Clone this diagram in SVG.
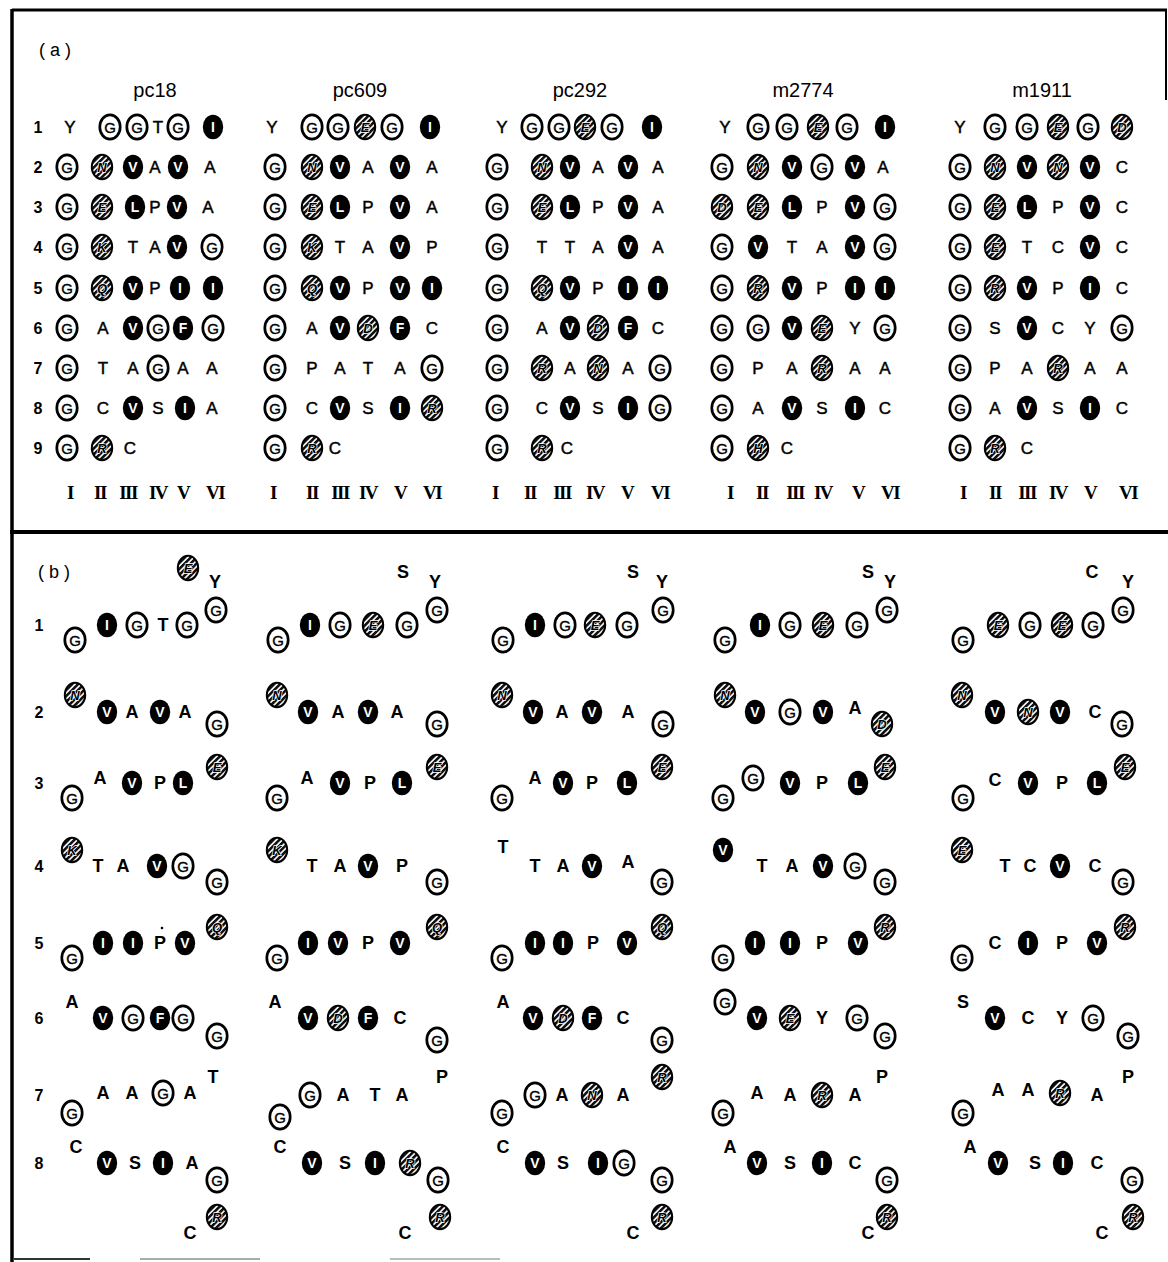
<svg xmlns="http://www.w3.org/2000/svg" xmlns:xlink="http://www.w3.org/1999/xlink" width="1168" height="1262" viewBox="0 0 1168 1262">
<style>
text{font-family:"Liberation Sans",Arial,sans-serif;text-anchor:middle;dominant-baseline:central}
.t{font-size:17px;stroke:#000;stroke-width:0.45}
.u{font-size:18px;font-weight:bold}
.g{font-size:15px;stroke:#000;stroke-width:0.35}
.w{font-size:14px;font-weight:bold;fill:#fff}
.h{font-size:13px;font-weight:bold;font-style:italic;fill:#000;stroke:#fff;stroke-width:1.3;paint-order:stroke}
.n{font-size:16px;font-weight:bold}
.hd{font-size:20px}
.lb{font-size:18px}
.rm{font-family:"Liberation Serif","Times New Roman",serif;font-size:19px;font-weight:bold;letter-spacing:-1.5px}
.frame{stroke:#000;fill:none}
</style>
<defs>
<pattern id="hp" width="4.2" height="4.2" patternUnits="userSpaceOnUse" patternTransform="rotate(45)"><rect width="4.2" height="4.2" fill="#111"/><rect width="1.6" height="4.2" fill="#fff"/></pattern>
<ellipse id="r" rx="10.2" ry="12.2" fill="#fff" stroke="#000" stroke-width="2.7"/>
<ellipse id="b" rx="10.2" ry="12.2" fill="#000"/>
<ellipse id="h" rx="10.2" ry="12.2" fill="url(#hp)" stroke="#000" stroke-width="2"/>
</defs>
<rect width="1168" height="1262" fill="#fff"/>
<g id="frame">
<line class="frame" x1="12" y1="10" x2="1167" y2="10" stroke-width="3"/>
<line class="frame" x1="12" y1="9" x2="12" y2="1262" stroke-width="3.5"/>
<line class="frame" x1="1166" y1="10" x2="1166" y2="100" stroke-width="2"/>
<line class="frame" x1="10" y1="532" x2="1168" y2="532" stroke-width="4"/>
<line x1="14" y1="1259" x2="90" y2="1259" stroke="#333" stroke-width="2"/>
<line x1="140" y1="1259" x2="260" y2="1259" stroke="#aaa" stroke-width="2"/>
<line x1="390" y1="1259" x2="500" y2="1259" stroke="#bbb" stroke-width="2"/>
</g>

<g id="panel-a">
<text class="lb" x="55" y="50">( a )</text>
<g id="a-rows">
<text class="n" x="38" y="127">1</text><text class="n" x="38" y="167">2</text><text class="n" x="38" y="207">3</text><text class="n" x="38" y="247">4</text><text class="n" x="38" y="288">5</text><text class="n" x="38" y="328">6</text><text class="n" x="38" y="368">7</text><text class="n" x="38" y="408">8</text><text class="n" x="38" y="448">9</text>
</g>

<g id="a-pc18">
<text class="hd" x="155" y="90">pc18</text>
<text class="t" x="70" y="127">Y</text><use href="#r" x="110" y="127"/><text class="g" x="110" y="127">G</text><use href="#r" x="137" y="127"/><text class="g" x="137" y="127">G</text><text class="t" x="158" y="127">T</text><use href="#r" x="178" y="127"/><text class="g" x="178" y="127">G</text><use href="#b" x="213" y="127"/><text class="w" x="213" y="127">I</text>
<use href="#r" x="67" y="167"/><text class="g" x="67" y="167">G</text><use href="#h" x="102" y="167"/><text class="h" x="102" y="167">N</text><use href="#b" x="133" y="167"/><text class="w" x="133" y="167">V</text><text class="t" x="155" y="167">A</text><use href="#b" x="178" y="167"/><text class="w" x="178" y="167">V</text><text class="t" x="210" y="167">A</text>
<use href="#r" x="67" y="207"/><text class="g" x="67" y="207">G</text><use href="#h" x="102" y="207"/><text class="h" x="102" y="207">E</text><use href="#b" x="135" y="207"/><text class="w" x="135" y="207">L</text><text class="t" x="155" y="207">P</text><use href="#b" x="177" y="207"/><text class="w" x="177" y="207">V</text><text class="t" x="208" y="207">A</text>
<use href="#r" x="67" y="247"/><text class="g" x="67" y="247">G</text><use href="#h" x="102" y="247"/><text class="h" x="102" y="247">K</text><text class="t" x="133" y="247">T</text><text class="t" x="155" y="247">A</text><use href="#b" x="177" y="247"/><text class="w" x="177" y="247">V</text><use href="#r" x="212" y="247"/><text class="g" x="212" y="247">G</text>
<use href="#r" x="67" y="288"/><text class="g" x="67" y="288">G</text><use href="#h" x="102" y="288"/><text class="h" x="102" y="288">Q</text><use href="#b" x="133" y="288"/><text class="w" x="133" y="288">V</text><text class="t" x="155" y="288">P</text><use href="#b" x="180" y="288"/><text class="w" x="180" y="288">I</text><use href="#b" x="213" y="288"/><text class="w" x="213" y="288">I</text>
<use href="#r" x="67" y="328"/><text class="g" x="67" y="328">G</text><text class="t" x="103" y="328">A</text><use href="#b" x="133" y="328"/><text class="w" x="133" y="328">V</text><use href="#r" x="158" y="328"/><text class="g" x="158" y="328">G</text><use href="#b" x="183" y="328"/><text class="w" x="183" y="328">F</text><use href="#r" x="213" y="328"/><text class="g" x="213" y="328">G</text>
<use href="#r" x="67" y="368"/><text class="g" x="67" y="368">G</text><text class="t" x="103" y="368">T</text><text class="t" x="133" y="368">A</text><use href="#r" x="158" y="368"/><text class="g" x="158" y="368">G</text><text class="t" x="183" y="368">A</text><text class="t" x="212" y="368">A</text>
<use href="#r" x="67" y="408"/><text class="g" x="67" y="408">G</text><text class="t" x="103" y="408">C</text><use href="#b" x="133" y="408"/><text class="w" x="133" y="408">V</text><text class="t" x="158" y="408">S</text><use href="#b" x="185" y="408"/><text class="w" x="185" y="408">I</text><text class="t" x="212" y="408">A</text>
<use href="#r" x="67" y="448"/><text class="g" x="67" y="448">G</text><use href="#h" x="102" y="448"/><text class="h" x="102" y="448">R</text><text class="t" x="130" y="448">C</text>
<text class="rm" x="70" y="492">I</text><text class="rm" x="100" y="492">II</text><text class="rm" x="128" y="492">III</text><text class="rm" x="158" y="492">IV</text><text class="rm" x="183" y="492">V</text><text class="rm" x="215" y="492">VI</text>
</g>

<g id="a-pc609">
<text class="hd" x="360" y="90">pc609</text>
<text class="t" x="272" y="127">Y</text><use href="#r" x="312" y="127"/><text class="g" x="312" y="127">G</text><use href="#r" x="338" y="127"/><text class="g" x="338" y="127">G</text><use href="#h" x="365" y="127"/><text class="h" x="365" y="127">E</text><use href="#r" x="392" y="127"/><text class="g" x="392" y="127">G</text><use href="#b" x="430" y="127"/><text class="w" x="430" y="127">I</text>
<use href="#r" x="275" y="167"/><text class="g" x="275" y="167">G</text><use href="#h" x="312" y="167"/><text class="h" x="312" y="167">N</text><use href="#b" x="340" y="167"/><text class="w" x="340" y="167">V</text><text class="t" x="368" y="167">A</text><use href="#b" x="400" y="167"/><text class="w" x="400" y="167">V</text><text class="t" x="432" y="167">A</text>
<use href="#r" x="275" y="207"/><text class="g" x="275" y="207">G</text><use href="#h" x="312" y="207"/><text class="h" x="312" y="207">E</text><use href="#b" x="340" y="207"/><text class="w" x="340" y="207">L</text><text class="t" x="368" y="207">P</text><use href="#b" x="400" y="207"/><text class="w" x="400" y="207">V</text><text class="t" x="432" y="207">A</text>
<use href="#r" x="275" y="247"/><text class="g" x="275" y="247">G</text><use href="#h" x="312" y="247"/><text class="h" x="312" y="247">K</text><text class="t" x="340" y="247">T</text><text class="t" x="368" y="247">A</text><use href="#b" x="400" y="247"/><text class="w" x="400" y="247">V</text><text class="t" x="432" y="247">P</text>
<use href="#r" x="275" y="288"/><text class="g" x="275" y="288">G</text><use href="#h" x="312" y="288"/><text class="h" x="312" y="288">Q</text><use href="#b" x="340" y="288"/><text class="w" x="340" y="288">V</text><text class="t" x="368" y="288">P</text><use href="#b" x="400" y="288"/><text class="w" x="400" y="288">V</text><use href="#b" x="432" y="288"/><text class="w" x="432" y="288">I</text>
<use href="#r" x="275" y="328"/><text class="g" x="275" y="328">G</text><text class="t" x="312" y="328">A</text><use href="#b" x="340" y="328"/><text class="w" x="340" y="328">V</text><use href="#h" x="368" y="328"/><text class="h" x="368" y="328">D</text><use href="#b" x="400" y="328"/><text class="w" x="400" y="328">F</text><text class="t" x="432" y="328">C</text>
<use href="#r" x="275" y="368"/><text class="g" x="275" y="368">G</text><text class="t" x="312" y="368">P</text><text class="t" x="340" y="368">A</text><text class="t" x="368" y="368">T</text><text class="t" x="400" y="368">A</text><use href="#r" x="432" y="368"/><text class="g" x="432" y="368">G</text>
<use href="#r" x="275" y="408"/><text class="g" x="275" y="408">G</text><text class="t" x="312" y="408">C</text><use href="#b" x="340" y="408"/><text class="w" x="340" y="408">V</text><text class="t" x="368" y="408">S</text><use href="#b" x="400" y="408"/><text class="w" x="400" y="408">I</text><use href="#h" x="432" y="408"/><text class="h" x="432" y="408">R</text>
<use href="#r" x="275" y="448"/><text class="g" x="275" y="448">G</text><use href="#h" x="312" y="448"/><text class="h" x="312" y="448">R</text><text class="t" x="335" y="448">C</text>
<text class="rm" x="273" y="492">I</text><text class="rm" x="312" y="492">II</text><text class="rm" x="340" y="492">III</text><text class="rm" x="368" y="492">IV</text><text class="rm" x="400" y="492">V</text><text class="rm" x="432" y="492">VI</text>
</g>

<g id="a-pc292">
<text class="hd" x="580" y="90">pc292</text>
<text class="t" x="502" y="127">Y</text><use href="#r" x="532" y="127"/><text class="g" x="532" y="127">G</text><use href="#r" x="559" y="127"/><text class="g" x="559" y="127">G</text><use href="#h" x="585" y="127"/><text class="h" x="585" y="127">E</text><use href="#r" x="612" y="127"/><text class="g" x="612" y="127">G</text><use href="#b" x="652" y="127"/><text class="w" x="652" y="127">I</text>
<use href="#r" x="497" y="167"/><text class="g" x="497" y="167">G</text><use href="#h" x="542" y="167"/><text class="h" x="542" y="167">N</text><use href="#b" x="570" y="167"/><text class="w" x="570" y="167">V</text><text class="t" x="598" y="167">A</text><use href="#b" x="628" y="167"/><text class="w" x="628" y="167">V</text><text class="t" x="658" y="167">A</text>
<use href="#r" x="497" y="207"/><text class="g" x="497" y="207">G</text><use href="#h" x="542" y="207"/><text class="h" x="542" y="207">E</text><use href="#b" x="570" y="207"/><text class="w" x="570" y="207">L</text><text class="t" x="598" y="207">P</text><use href="#b" x="628" y="207"/><text class="w" x="628" y="207">V</text><text class="t" x="658" y="207">A</text>
<use href="#r" x="497" y="247"/><text class="g" x="497" y="247">G</text><text class="t" x="542" y="247">T</text><text class="t" x="570" y="247">T</text><text class="t" x="598" y="247">A</text><use href="#b" x="628" y="247"/><text class="w" x="628" y="247">V</text><text class="t" x="658" y="247">A</text>
<use href="#r" x="497" y="288"/><text class="g" x="497" y="288">G</text><use href="#h" x="542" y="288"/><text class="h" x="542" y="288">Q</text><use href="#b" x="570" y="288"/><text class="w" x="570" y="288">V</text><text class="t" x="598" y="288">P</text><use href="#b" x="628" y="288"/><text class="w" x="628" y="288">I</text><use href="#b" x="658" y="288"/><text class="w" x="658" y="288">I</text>
<use href="#r" x="497" y="328"/><text class="g" x="497" y="328">G</text><text class="t" x="542" y="328">A</text><use href="#b" x="570" y="328"/><text class="w" x="570" y="328">V</text><use href="#h" x="598" y="328"/><text class="h" x="598" y="328">D</text><use href="#b" x="628" y="328"/><text class="w" x="628" y="328">F</text><text class="t" x="658" y="328">C</text>
<use href="#r" x="497" y="368"/><text class="g" x="497" y="368">G</text><use href="#h" x="542" y="368"/><text class="h" x="542" y="368">R</text><text class="t" x="570" y="368">A</text><use href="#h" x="598" y="368"/><text class="h" x="598" y="368">N</text><text class="t" x="628" y="368">A</text><use href="#r" x="660" y="368"/><text class="g" x="660" y="368">G</text>
<use href="#r" x="497" y="408"/><text class="g" x="497" y="408">G</text><text class="t" x="542" y="408">C</text><use href="#b" x="570" y="408"/><text class="w" x="570" y="408">V</text><text class="t" x="598" y="408">S</text><use href="#b" x="628" y="408"/><text class="w" x="628" y="408">I</text><use href="#r" x="660" y="408"/><text class="g" x="660" y="408">G</text>
<use href="#r" x="497" y="448"/><text class="g" x="497" y="448">G</text><use href="#h" x="542" y="448"/><text class="h" x="542" y="448">R</text><text class="t" x="567" y="448">C</text>
<text class="rm" x="495" y="492">I</text><text class="rm" x="530" y="492">II</text><text class="rm" x="562" y="492">III</text><text class="rm" x="595" y="492">IV</text><text class="rm" x="627" y="492">V</text><text class="rm" x="660" y="492">VI</text>
</g>

<g id="a-m2774">
<text class="hd" x="803" y="90">m2774</text>
<text class="t" x="725" y="127">Y</text><use href="#r" x="758" y="127"/><text class="g" x="758" y="127">G</text><use href="#r" x="787" y="127"/><text class="g" x="787" y="127">G</text><use href="#h" x="818" y="127"/><text class="h" x="818" y="127">E</text><use href="#r" x="847" y="127"/><text class="g" x="847" y="127">G</text><use href="#b" x="885" y="127"/><text class="w" x="885" y="127">I</text>
<use href="#r" x="722" y="167"/><text class="g" x="722" y="167">G</text><use href="#h" x="758" y="167"/><text class="h" x="758" y="167">N</text><use href="#b" x="792" y="167"/><text class="w" x="792" y="167">V</text><use href="#r" x="822" y="167"/><text class="g" x="822" y="167">G</text><use href="#b" x="855" y="167"/><text class="w" x="855" y="167">V</text><text class="t" x="883" y="167">A</text>
<use href="#h" x="722" y="207"/><text class="h" x="722" y="207">D</text><use href="#h" x="758" y="207"/><text class="h" x="758" y="207">E</text><use href="#b" x="792" y="207"/><text class="w" x="792" y="207">L</text><text class="t" x="822" y="207">P</text><use href="#b" x="855" y="207"/><text class="w" x="855" y="207">V</text><use href="#r" x="885" y="207"/><text class="g" x="885" y="207">G</text>
<use href="#r" x="722" y="247"/><text class="g" x="722" y="247">G</text><use href="#b" x="758" y="247"/><text class="w" x="758" y="247">V</text><text class="t" x="792" y="247">T</text><text class="t" x="822" y="247">A</text><use href="#b" x="855" y="247"/><text class="w" x="855" y="247">V</text><use href="#r" x="885" y="247"/><text class="g" x="885" y="247">G</text>
<use href="#r" x="722" y="288"/><text class="g" x="722" y="288">G</text><use href="#h" x="758" y="288"/><text class="h" x="758" y="288">R</text><use href="#b" x="792" y="288"/><text class="w" x="792" y="288">V</text><text class="t" x="822" y="288">P</text><use href="#b" x="855" y="288"/><text class="w" x="855" y="288">I</text><use href="#b" x="885" y="288"/><text class="w" x="885" y="288">I</text>
<use href="#r" x="722" y="328"/><text class="g" x="722" y="328">G</text><use href="#r" x="758" y="328"/><text class="g" x="758" y="328">G</text><use href="#b" x="792" y="328"/><text class="w" x="792" y="328">V</text><use href="#h" x="822" y="328"/><text class="h" x="822" y="328">E</text><text class="t" x="855" y="328">Y</text><use href="#r" x="885" y="328"/><text class="g" x="885" y="328">G</text>
<use href="#r" x="722" y="368"/><text class="g" x="722" y="368">G</text><text class="t" x="758" y="368">P</text><text class="t" x="792" y="368">A</text><use href="#h" x="822" y="368"/><text class="h" x="822" y="368">R</text><text class="t" x="855" y="368">A</text><text class="t" x="885" y="368">A</text>
<use href="#r" x="722" y="408"/><text class="g" x="722" y="408">G</text><text class="t" x="758" y="408">A</text><use href="#b" x="792" y="408"/><text class="w" x="792" y="408">V</text><text class="t" x="822" y="408">S</text><use href="#b" x="855" y="408"/><text class="w" x="855" y="408">I</text><text class="t" x="885" y="408">C</text>
<use href="#r" x="722" y="448"/><text class="g" x="722" y="448">G</text><use href="#h" x="758" y="448"/><text class="h" x="758" y="448">H</text><text class="t" x="787" y="448">C</text>
<text class="rm" x="730" y="492">I</text><text class="rm" x="762" y="492">II</text><text class="rm" x="795" y="492">III</text><text class="rm" x="823" y="492">IV</text><text class="rm" x="858" y="492">V</text><text class="rm" x="890" y="492">VI</text>
</g>

<g id="a-m1911">
<text class="hd" x="1042" y="90">m1911</text>
<text class="t" x="960" y="127">Y</text><use href="#r" x="995" y="127"/><text class="g" x="995" y="127">G</text><use href="#r" x="1027" y="127"/><text class="g" x="1027" y="127">G</text><use href="#h" x="1058" y="127"/><text class="h" x="1058" y="127">E</text><use href="#r" x="1088" y="127"/><text class="g" x="1088" y="127">G</text><use href="#h" x="1122" y="127"/><text class="h" x="1122" y="127">D</text>
<use href="#r" x="960" y="167"/><text class="g" x="960" y="167">G</text><use href="#h" x="995" y="167"/><text class="h" x="995" y="167">N</text><use href="#b" x="1027" y="167"/><text class="w" x="1027" y="167">V</text><use href="#h" x="1058" y="167"/><text class="h" x="1058" y="167">N</text><use href="#b" x="1090" y="167"/><text class="w" x="1090" y="167">V</text><text class="t" x="1122" y="167">C</text>
<use href="#r" x="960" y="207"/><text class="g" x="960" y="207">G</text><use href="#h" x="995" y="207"/><text class="h" x="995" y="207">E</text><use href="#b" x="1027" y="207"/><text class="w" x="1027" y="207">L</text><text class="t" x="1058" y="207">P</text><use href="#b" x="1090" y="207"/><text class="w" x="1090" y="207">V</text><text class="t" x="1122" y="207">C</text>
<use href="#r" x="960" y="247"/><text class="g" x="960" y="247">G</text><use href="#h" x="995" y="247"/><text class="h" x="995" y="247">E</text><text class="t" x="1027" y="247">T</text><text class="t" x="1058" y="247">C</text><use href="#b" x="1090" y="247"/><text class="w" x="1090" y="247">V</text><text class="t" x="1122" y="247">C</text>
<use href="#r" x="960" y="288"/><text class="g" x="960" y="288">G</text><use href="#h" x="995" y="288"/><text class="h" x="995" y="288">R</text><use href="#b" x="1027" y="288"/><text class="w" x="1027" y="288">V</text><text class="t" x="1058" y="288">P</text><use href="#b" x="1090" y="288"/><text class="w" x="1090" y="288">I</text><text class="t" x="1122" y="288">C</text>
<use href="#r" x="960" y="328"/><text class="g" x="960" y="328">G</text><text class="t" x="995" y="328">S</text><use href="#b" x="1027" y="328"/><text class="w" x="1027" y="328">V</text><text class="t" x="1058" y="328">C</text><text class="t" x="1090" y="328">Y</text><use href="#r" x="1122" y="328"/><text class="g" x="1122" y="328">G</text>
<use href="#r" x="960" y="368"/><text class="g" x="960" y="368">G</text><text class="t" x="995" y="368">P</text><text class="t" x="1027" y="368">A</text><use href="#h" x="1058" y="368"/><text class="h" x="1058" y="368">R</text><text class="t" x="1090" y="368">A</text><text class="t" x="1122" y="368">A</text>
<use href="#r" x="960" y="408"/><text class="g" x="960" y="408">G</text><text class="t" x="995" y="408">A</text><use href="#b" x="1027" y="408"/><text class="w" x="1027" y="408">V</text><text class="t" x="1058" y="408">S</text><use href="#b" x="1090" y="408"/><text class="w" x="1090" y="408">I</text><text class="t" x="1122" y="408">C</text>
<use href="#r" x="960" y="448"/><text class="g" x="960" y="448">G</text><use href="#h" x="995" y="448"/><text class="h" x="995" y="448">R</text><text class="t" x="1027" y="448">C</text>
<text class="rm" x="963" y="492">I</text><text class="rm" x="995" y="492">II</text><text class="rm" x="1027" y="492">III</text><text class="rm" x="1058" y="492">IV</text><text class="rm" x="1090" y="492">V</text><text class="rm" x="1128" y="492">VI</text>
</g>
</g>

<g id="panel-b">
<text class="lb" x="54" y="572">( b )</text>
<g id="b-rows">
<text class="n" x="39" y="625">1</text><text class="n" x="39" y="712">2</text><text class="n" x="39" y="783">3</text><text class="n" x="39" y="866">4</text><text class="n" x="39" y="943">5</text><text class="n" x="39" y="1018">6</text><text class="n" x="39" y="1095">7</text><text class="n" x="39" y="1163">8</text>
</g>

<g id="b-pc18">
<use href="#h" x="188" y="568"/><text class="h" x="188" y="568">E</text><text class="u" x="215" y="582">Y</text>
<use href="#r" x="75" y="640"/><text class="g" x="75" y="640">G</text><use href="#b" x="107" y="625"/><text class="w" x="107" y="625">I</text><use href="#r" x="137" y="625"/><text class="g" x="137" y="625">G</text><text class="u" x="163" y="625">T</text><use href="#r" x="187" y="625"/><text class="g" x="187" y="625">G</text><use href="#r" x="216" y="610"/><text class="g" x="216" y="610">G</text>
<use href="#h" x="75" y="695"/><text class="h" x="75" y="695">N</text><use href="#b" x="107" y="712"/><text class="w" x="107" y="712">V</text><text class="u" x="132" y="712">A</text><use href="#b" x="160" y="712"/><text class="w" x="160" y="712">V</text><text class="u" x="185" y="712">A</text><use href="#r" x="217" y="724"/><text class="g" x="217" y="724">G</text>
<use href="#r" x="72" y="798"/><text class="g" x="72" y="798">G</text><text class="u" x="100" y="778">A</text><use href="#b" x="132" y="783"/><text class="w" x="132" y="783">V</text><text class="u" x="160" y="783">P</text><use href="#b" x="183" y="783"/><text class="w" x="183" y="783">L</text><use href="#h" x="217" y="767"/><text class="h" x="217" y="767">E</text>
<use href="#h" x="72" y="850"/><text class="h" x="72" y="850">K</text><text class="u" x="98" y="866">T</text><text class="u" x="123" y="866">A</text><use href="#b" x="157" y="866"/><text class="w" x="157" y="866">V</text><use href="#r" x="183" y="866"/><text class="g" x="183" y="866">G</text><use href="#r" x="217" y="882"/><text class="g" x="217" y="882">G</text>
<use href="#r" x="72" y="958"/><text class="g" x="72" y="958">G</text><use href="#b" x="103" y="943"/><text class="w" x="103" y="943">I</text><use href="#b" x="133" y="943"/><text class="w" x="133" y="943">I</text><text class="u" x="160" y="943">P</text><circle cx="162" cy="928" r="1.3"/><use href="#b" x="185" y="943"/><text class="w" x="185" y="943">V</text><use href="#h" x="217" y="927"/><text class="h" x="217" y="927">Q</text>
<text class="u" x="72" y="1002">A</text><use href="#b" x="103" y="1018"/><text class="w" x="103" y="1018">V</text><use href="#r" x="133" y="1018"/><text class="g" x="133" y="1018">G</text><use href="#b" x="160" y="1018"/><text class="w" x="160" y="1018">F</text><use href="#r" x="183" y="1018"/><text class="g" x="183" y="1018">G</text><use href="#r" x="217" y="1036"/><text class="g" x="217" y="1036">G</text>
<use href="#r" x="72" y="1113"/><text class="g" x="72" y="1113">G</text><text class="u" x="103" y="1093">A</text><text class="u" x="132" y="1093">A</text><use href="#r" x="163" y="1093"/><text class="g" x="163" y="1093">G</text><text class="u" x="190" y="1093">A</text><text class="u" x="213" y="1077">T</text>
<text class="u" x="76" y="1147">C</text><use href="#b" x="107" y="1163"/><text class="w" x="107" y="1163">V</text><text class="u" x="135" y="1163">S</text><use href="#b" x="163" y="1163"/><text class="w" x="163" y="1163">I</text><text class="u" x="192" y="1163">A</text><use href="#r" x="217" y="1180"/><text class="g" x="217" y="1180">G</text>
<text class="u" x="190" y="1233">C</text><use href="#h" x="217" y="1217"/><text class="h" x="217" y="1217">R</text>
</g>

<g id="b-pc609">
<text class="u" x="403" y="572">S</text><text class="u" x="435" y="582">Y</text>
<use href="#r" x="278" y="640"/><text class="g" x="278" y="640">G</text><use href="#b" x="310" y="625"/><text class="w" x="310" y="625">I</text><use href="#r" x="340" y="625"/><text class="g" x="340" y="625">G</text><use href="#h" x="373" y="625"/><text class="h" x="373" y="625">E</text><use href="#r" x="407" y="625"/><text class="g" x="407" y="625">G</text><use href="#r" x="437" y="610"/><text class="g" x="437" y="610">G</text>
<use href="#h" x="277" y="695"/><text class="h" x="277" y="695">N</text><use href="#b" x="308" y="712"/><text class="w" x="308" y="712">V</text><text class="u" x="338" y="712">A</text><use href="#b" x="368" y="712"/><text class="w" x="368" y="712">V</text><text class="u" x="397" y="712">A</text><use href="#r" x="437" y="724"/><text class="g" x="437" y="724">G</text>
<use href="#r" x="277" y="798"/><text class="g" x="277" y="798">G</text><text class="u" x="307" y="778">A</text><use href="#b" x="340" y="783"/><text class="w" x="340" y="783">V</text><text class="u" x="370" y="783">P</text><use href="#b" x="402" y="783"/><text class="w" x="402" y="783">L</text><use href="#h" x="437" y="767"/><text class="h" x="437" y="767">E</text>
<use href="#h" x="277" y="850"/><text class="h" x="277" y="850">K</text><text class="u" x="312" y="866">T</text><text class="u" x="340" y="866">A</text><use href="#b" x="368" y="866"/><text class="w" x="368" y="866">V</text><text class="u" x="402" y="866">P</text><use href="#r" x="437" y="882"/><text class="g" x="437" y="882">G</text>
<use href="#r" x="277" y="958"/><text class="g" x="277" y="958">G</text><use href="#b" x="308" y="943"/><text class="w" x="308" y="943">I</text><use href="#b" x="338" y="943"/><text class="w" x="338" y="943">V</text><text class="u" x="368" y="943">P</text><use href="#b" x="400" y="943"/><text class="w" x="400" y="943">V</text><use href="#h" x="437" y="927"/><text class="h" x="437" y="927">Q</text>
<text class="u" x="275" y="1002">A</text><use href="#b" x="308" y="1018"/><text class="w" x="308" y="1018">V</text><use href="#h" x="338" y="1018"/><text class="h" x="338" y="1018">D</text><use href="#b" x="368" y="1018"/><text class="w" x="368" y="1018">F</text><text class="u" x="400" y="1018">C</text><use href="#r" x="437" y="1040"/><text class="g" x="437" y="1040">G</text>
<use href="#r" x="280" y="1117"/><text class="g" x="280" y="1117">G</text><use href="#r" x="310" y="1095"/><text class="g" x="310" y="1095">G</text><text class="u" x="343" y="1095">A</text><text class="u" x="375" y="1095">T</text><text class="u" x="402" y="1095">A</text><text class="u" x="442" y="1077">P</text>
<text class="u" x="280" y="1147">C</text><use href="#b" x="312" y="1163"/><text class="w" x="312" y="1163">V</text><text class="u" x="345" y="1163">S</text><use href="#b" x="375" y="1163"/><text class="w" x="375" y="1163">I</text><use href="#h" x="410" y="1163"/><text class="h" x="410" y="1163">R</text><use href="#r" x="438" y="1180"/><text class="g" x="438" y="1180">G</text>
<text class="u" x="405" y="1233">C</text><use href="#h" x="440" y="1217"/><text class="h" x="440" y="1217">R</text>
</g>

<g id="b-pc292">
<text class="u" x="633" y="572">S</text><text class="u" x="662" y="582">Y</text>
<use href="#r" x="503" y="640"/><text class="g" x="503" y="640">G</text><use href="#b" x="535" y="625"/><text class="w" x="535" y="625">I</text><use href="#r" x="565" y="625"/><text class="g" x="565" y="625">G</text><use href="#h" x="595" y="625"/><text class="h" x="595" y="625">E</text><use href="#r" x="627" y="625"/><text class="g" x="627" y="625">G</text><use href="#r" x="663" y="610"/><text class="g" x="663" y="610">G</text>
<use href="#h" x="502" y="695"/><text class="h" x="502" y="695">N</text><use href="#b" x="533" y="712"/><text class="w" x="533" y="712">V</text><text class="u" x="562" y="712">A</text><use href="#b" x="592" y="712"/><text class="w" x="592" y="712">V</text><text class="u" x="628" y="712">A</text><use href="#r" x="663" y="724"/><text class="g" x="663" y="724">G</text>
<use href="#r" x="502" y="798"/><text class="g" x="502" y="798">G</text><text class="u" x="535" y="778">A</text><use href="#b" x="563" y="783"/><text class="w" x="563" y="783">V</text><text class="u" x="592" y="783">P</text><use href="#b" x="627" y="783"/><text class="w" x="627" y="783">L</text><use href="#h" x="662" y="767"/><text class="h" x="662" y="767">E</text>
<text class="u" x="503" y="847">T</text><text class="u" x="535" y="866">T</text><text class="u" x="563" y="866">A</text><use href="#b" x="592" y="866"/><text class="w" x="592" y="866">V</text><text class="u" x="628" y="862">A</text><use href="#r" x="662" y="882"/><text class="g" x="662" y="882">G</text>
<use href="#r" x="502" y="958"/><text class="g" x="502" y="958">G</text><use href="#b" x="535" y="943"/><text class="w" x="535" y="943">I</text><use href="#b" x="563" y="943"/><text class="w" x="563" y="943">I</text><text class="u" x="593" y="943">P</text><use href="#b" x="627" y="943"/><text class="w" x="627" y="943">V</text><use href="#h" x="662" y="927"/><text class="h" x="662" y="927">Q</text>
<text class="u" x="503" y="1002">A</text><use href="#b" x="533" y="1018"/><text class="w" x="533" y="1018">V</text><use href="#h" x="563" y="1018"/><text class="h" x="563" y="1018">D</text><use href="#b" x="592" y="1018"/><text class="w" x="592" y="1018">F</text><text class="u" x="623" y="1018">C</text><use href="#r" x="662" y="1040"/><text class="g" x="662" y="1040">G</text>
<use href="#r" x="502" y="1113"/><text class="g" x="502" y="1113">G</text><use href="#r" x="535" y="1095"/><text class="g" x="535" y="1095">G</text><text class="u" x="562" y="1095">A</text><use href="#h" x="592" y="1095"/><text class="h" x="592" y="1095">N</text><text class="u" x="623" y="1095">A</text><use href="#h" x="662" y="1077"/><text class="h" x="662" y="1077">R</text>
<text class="u" x="503" y="1147">C</text><use href="#b" x="535" y="1163"/><text class="w" x="535" y="1163">V</text><text class="u" x="563" y="1163">S</text><use href="#b" x="598" y="1163"/><text class="w" x="598" y="1163">I</text><use href="#r" x="624" y="1163"/><text class="g" x="624" y="1163">G</text><use href="#r" x="662" y="1180"/><text class="g" x="662" y="1180">G</text>
<text class="u" x="633" y="1233">C</text><use href="#h" x="662" y="1217"/><text class="h" x="662" y="1217">R</text>
</g>

<g id="b-m2774">
<text class="u" x="868" y="572">S</text><text class="u" x="890" y="582">Y</text>
<use href="#r" x="725" y="640"/><text class="g" x="725" y="640">G</text><use href="#b" x="760" y="625"/><text class="w" x="760" y="625">I</text><use href="#r" x="790" y="625"/><text class="g" x="790" y="625">G</text><use href="#h" x="823" y="625"/><text class="h" x="823" y="625">E</text><use href="#r" x="857" y="625"/><text class="g" x="857" y="625">G</text><use href="#r" x="887" y="610"/><text class="g" x="887" y="610">G</text>
<use href="#h" x="725" y="695"/><text class="h" x="725" y="695">N</text><use href="#b" x="755" y="712"/><text class="w" x="755" y="712">V</text><use href="#r" x="790" y="712"/><text class="g" x="790" y="712">G</text><use href="#b" x="823" y="712"/><text class="w" x="823" y="712">V</text><text class="u" x="855" y="708">A</text><use href="#h" x="882" y="724"/><text class="h" x="882" y="724">D</text>
<use href="#r" x="723" y="798"/><text class="g" x="723" y="798">G</text><use href="#r" x="753" y="778"/><text class="g" x="753" y="778">G</text><use href="#b" x="790" y="783"/><text class="w" x="790" y="783">V</text><text class="u" x="822" y="783">P</text><use href="#b" x="858" y="783"/><text class="w" x="858" y="783">L</text><use href="#h" x="885" y="767"/><text class="h" x="885" y="767">E</text>
<use href="#b" x="723" y="850"/><text class="w" x="723" y="850">V</text><text class="u" x="762" y="866">T</text><text class="u" x="792" y="866">A</text><use href="#b" x="823" y="866"/><text class="w" x="823" y="866">V</text><use href="#r" x="855" y="866"/><text class="g" x="855" y="866">G</text><use href="#r" x="885" y="882"/><text class="g" x="885" y="882">G</text>
<use href="#r" x="723" y="958"/><text class="g" x="723" y="958">G</text><use href="#b" x="755" y="943"/><text class="w" x="755" y="943">I</text><use href="#b" x="790" y="943"/><text class="w" x="790" y="943">I</text><text class="u" x="822" y="943">P</text><use href="#b" x="858" y="943"/><text class="w" x="858" y="943">V</text><use href="#h" x="885" y="927"/><text class="h" x="885" y="927">R</text>
<use href="#r" x="725" y="1002"/><text class="g" x="725" y="1002">G</text><use href="#b" x="757" y="1018"/><text class="w" x="757" y="1018">V</text><use href="#h" x="790" y="1018"/><text class="h" x="790" y="1018">E</text><text class="u" x="822" y="1018">Y</text><use href="#r" x="857" y="1018"/><text class="g" x="857" y="1018">G</text><use href="#r" x="885" y="1036"/><text class="g" x="885" y="1036">G</text>
<use href="#r" x="723" y="1113"/><text class="g" x="723" y="1113">G</text><text class="u" x="757" y="1093">A</text><text class="u" x="790" y="1095">A</text><use href="#h" x="822" y="1095"/><text class="h" x="822" y="1095">R</text><text class="u" x="855" y="1095">A</text><text class="u" x="882" y="1077">P</text>
<text class="u" x="730" y="1147">A</text><use href="#b" x="757" y="1163"/><text class="w" x="757" y="1163">V</text><text class="u" x="790" y="1163">S</text><use href="#b" x="822" y="1163"/><text class="w" x="822" y="1163">I</text><text class="u" x="855" y="1163">C</text><use href="#r" x="887" y="1180"/><text class="g" x="887" y="1180">G</text>
<text class="u" x="868" y="1233">C</text><use href="#h" x="887" y="1217"/><text class="h" x="887" y="1217">R</text>
</g>

<g id="b-m1911">
<text class="u" x="1092" y="572">C</text><text class="u" x="1128" y="582">Y</text>
<use href="#r" x="963" y="640"/><text class="g" x="963" y="640">G</text><use href="#h" x="998" y="625"/><text class="h" x="998" y="625">E</text><use href="#r" x="1030" y="625"/><text class="g" x="1030" y="625">G</text><use href="#h" x="1062" y="625"/><text class="h" x="1062" y="625">E</text><use href="#r" x="1093" y="625"/><text class="g" x="1093" y="625">G</text><use href="#r" x="1123" y="610"/><text class="g" x="1123" y="610">G</text>
<use href="#h" x="962" y="695"/><text class="h" x="962" y="695">N</text><use href="#b" x="995" y="712"/><text class="w" x="995" y="712">V</text><use href="#h" x="1028" y="712"/><text class="h" x="1028" y="712">N</text><use href="#b" x="1060" y="712"/><text class="w" x="1060" y="712">V</text><text class="u" x="1095" y="712">C</text><use href="#r" x="1122" y="724"/><text class="g" x="1122" y="724">G</text>
<use href="#r" x="963" y="798"/><text class="g" x="963" y="798">G</text><text class="u" x="995" y="780">C</text><use href="#b" x="1028" y="783"/><text class="w" x="1028" y="783">V</text><text class="u" x="1062" y="783">P</text><use href="#b" x="1097" y="783"/><text class="w" x="1097" y="783">L</text><use href="#h" x="1125" y="767"/><text class="h" x="1125" y="767">E</text>
<use href="#h" x="962" y="850"/><text class="h" x="962" y="850">E</text><text class="u" x="1005" y="866">T</text><text class="u" x="1030" y="866">C</text><use href="#b" x="1060" y="866"/><text class="w" x="1060" y="866">V</text><text class="u" x="1095" y="866">C</text><use href="#r" x="1123" y="882"/><text class="g" x="1123" y="882">G</text>
<use href="#r" x="962" y="958"/><text class="g" x="962" y="958">G</text><text class="u" x="995" y="943">C</text><use href="#b" x="1028" y="943"/><text class="w" x="1028" y="943">I</text><text class="u" x="1062" y="943">P</text><use href="#b" x="1097" y="943"/><text class="w" x="1097" y="943">V</text><use href="#h" x="1125" y="927"/><text class="h" x="1125" y="927">R</text>
<text class="u" x="963" y="1002">S</text><use href="#b" x="995" y="1018"/><text class="w" x="995" y="1018">V</text><text class="u" x="1028" y="1018">C</text><text class="u" x="1062" y="1018">Y</text><use href="#r" x="1093" y="1018"/><text class="g" x="1093" y="1018">G</text><use href="#r" x="1128" y="1036"/><text class="g" x="1128" y="1036">G</text>
<use href="#r" x="963" y="1113"/><text class="g" x="963" y="1113">G</text><text class="u" x="998" y="1090">A</text><text class="u" x="1028" y="1090">A</text><use href="#h" x="1060" y="1093"/><text class="h" x="1060" y="1093">R</text><text class="u" x="1097" y="1095">A</text><text class="u" x="1128" y="1077">P</text>
<text class="u" x="970" y="1147">A</text><use href="#b" x="998" y="1163"/><text class="w" x="998" y="1163">V</text><text class="u" x="1035" y="1163">S</text><use href="#b" x="1063" y="1163"/><text class="w" x="1063" y="1163">I</text><text class="u" x="1097" y="1163">C</text><use href="#r" x="1132" y="1180"/><text class="g" x="1132" y="1180">G</text>
<text class="u" x="1102" y="1233">C</text><use href="#h" x="1133" y="1217"/><text class="h" x="1133" y="1217">R</text>
</g>
</g>
</svg>
